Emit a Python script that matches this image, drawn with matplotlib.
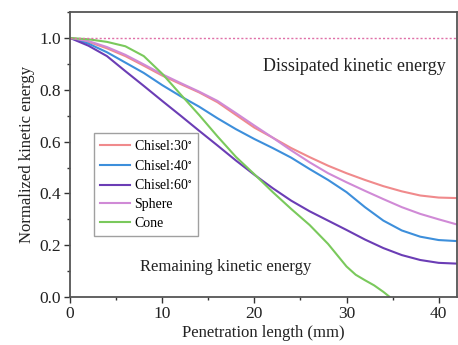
import matplotlib
matplotlib.use("Agg")
import matplotlib.pyplot as plt
from matplotlib.ticker import MultipleLocator

plt.rcParams['font.family'] = ['Liberation Serif', 'DejaVu Serif']
plt.rcParams['mathtext.fontset'] = 'stix'

x_common = [0, 2, 4, 6, 8, 10, 12, 14, 16, 18, 20, 22, 24, 26, 28, 30, 32, 34, 36, 38, 40, 42]
chisel30 = [1.0, 0.985, 0.96, 0.93, 0.893, 0.855, 0.822, 0.79, 0.752, 0.703, 0.654, 0.615, 0.575,
            0.54, 0.507, 0.478, 0.452, 0.428, 0.408, 0.392, 0.384, 0.382]
chisel40 = [1.0, 0.978, 0.945, 0.905, 0.865, 0.818, 0.775, 0.735, 0.69, 0.648, 0.61, 0.575, 0.538,
            0.494, 0.452, 0.405, 0.347, 0.295, 0.257, 0.233, 0.22, 0.216]
chisel60 = [1.0, 0.97, 0.93, 0.872, 0.815, 0.757, 0.7, 0.642, 0.585, 0.527, 0.472, 0.42, 0.372,
            0.331, 0.295, 0.259, 0.222, 0.189, 0.162, 0.143, 0.132, 0.129]
sphere = [1.0, 0.988, 0.965, 0.935, 0.898, 0.86, 0.826, 0.793, 0.757, 0.71, 0.662, 0.615, 0.566,
          0.52, 0.478, 0.443, 0.41, 0.378, 0.347, 0.321, 0.3, 0.28]
x_cone = [0, 2, 4, 6, 8, 10, 12, 14, 16, 18, 20, 22, 24, 26, 28, 30, 31, 32, 33, 34, 34.7]
cone = [1.0, 0.995, 0.985, 0.968, 0.93, 0.862, 0.782, 0.703, 0.62, 0.541, 0.474, 0.405, 0.34,
        0.278, 0.205, 0.118, 0.086, 0.065, 0.045, 0.02, 0.0]

labels = ['Chisel:30$^{\\circ}$', 'Chisel:40$^{\\circ}$', 'Chisel:60$^{\\circ}$', 'Sphere', 'Cone']
colors = ['#F08A8C', '#3D8FDB', '#6B3DB5', '#D08AD6', '#7AC95C']

fig = plt.figure(figsize=(4.58, 3.45), dpi=100)
ax = fig.add_axes([0.153, 0.139, 0.845, 0.826])

series = [(x_common, chisel30), (x_common, chisel40), (x_common, chisel60),
          (x_common, sphere), (x_cone, cone)]
for (xs, ys), lab, c in zip(series, labels, colors):
    ax.plot(xs, ys, color=c, lw=1.5, label=lab, solid_joinstyle='round')

ax.axhline(1.0, color='#E070A8', lw=1.0, ls=(0, (1.5, 1.5)))

ax.set_xlim(0, 42)
ax.set_ylim(0, 1.1)
ax.xaxis.set_major_locator(MultipleLocator(10))
ax.xaxis.set_minor_locator(MultipleLocator(5))
ax.set_yticks([0.0, 0.2, 0.4, 0.6, 0.8, 1.0])
ax.yaxis.set_minor_locator(MultipleLocator(0.1))
ax.tick_params(which='major', direction='out', length=4, width=1.0, labelsize=12.5,
               colors='#333333', labelcolor='#222222', pad=2.5)
ax.tick_params(which='minor', direction='out', length=2.5, width=1.0, colors='#333333')
for s in ax.spines.values():
    s.set_linewidth(1.3)
    s.set_color('#555555')

ax.set_xlabel('Penetration length (mm)', fontsize=12, color='#222222', labelpad=2)
ax.set_ylabel('Normalized kinetic energy', fontsize=12, color='#222222', labelpad=3)

ax.text(30.8, 0.888, 'Dissipated kinetic energy', fontsize=13, ha='center', va='center', color='#222222')
ax.text(16.85, 0.116, 'Remaining kinetic energy', fontsize=12, ha='center', va='center', color='#222222')

leg = ax.legend(loc='upper left', bbox_to_anchor=(0.062, 0.575), fontsize=10, frameon=True,
                fancybox=False, edgecolor='#888888', handlelength=2.2, handletextpad=0.3,
                labelspacing=0.42, borderpad=0.4, borderaxespad=0)
leg.get_frame().set_linewidth(1.0)

fig.savefig('out.png', dpi=100)
